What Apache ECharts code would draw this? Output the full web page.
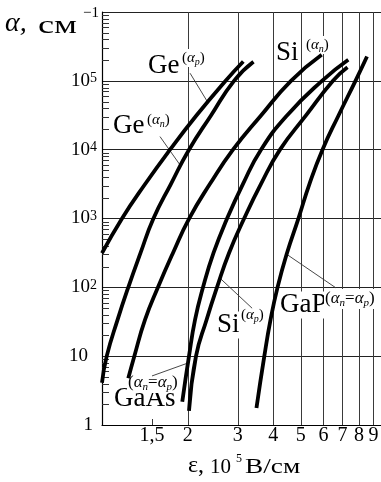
<!DOCTYPE html>
<html>
<head>
<meta charset="utf-8">
<script src="https://cdn.jsdelivr.net/npm/echarts@6/dist/echarts.min.js"></script>
<style>
  html, body { margin: 0; padding: 0; background: #fff; }
  #chart { width: 381px; height: 482px; }
</style>
</head>
<body>
<div id="chart"></div>
<script>
// Impact ionization coefficients α versus electric field ε (log-log).
// Each curve: [field, 10^5 V/cm ; alpha, cm^-1]
const geAlphaP = [[1.0, 313], [1.173, 986], [1.414, 3120], [1.734, 1.0e4], [2.147, 3.14e4], [2.706, 9.8e4], [3.138, 1.91e5]];
const geAlphaN = [[1.0, 4.12], [1.039, 10], [1.134, 33.6], [1.237, 100], [1.366, 316], [1.515, 990], [1.748, 3190], [2.022, 1.0e4], [2.416, 3.14e4], [2.911, 1.0e5], [3.408, 1.89e5]];
const siAlphaN = [[1.237, 4.77], [1.299, 10], [1.416, 33.6], [1.573, 100], [1.776, 316], [2.022, 990], [2.397, 3190], [2.887, 1.0e4], [3.622, 3.14e4], [4.617, 1.0e5], [5.918, 2.39e5]];
const gaAs = [[1.915, 2.18], [2.022, 10], [2.123, 33.6], [2.265, 100], [2.466, 316], [2.75, 990], [3.131, 3190], [3.622, 1.0e4], [4.47, 3.14e4], [5.933, 1.0e5], [7.34, 2.02e5]];
const siAlphaP = [[2.022, 1.61], [2.14, 10], [2.33, 33.6], [2.536, 100], [2.796, 316], [3.156, 990], [3.622, 3190], [4.224, 1.0e4], [5.212, 3.14e4], [6.486, 1.0e5], [7.293, 1.57e5]];
const gaP = [[3.491, 1.77], [3.72, 10], [3.911, 33.6], [4.14, 100], [4.47, 316], [4.898, 990], [5.362, 3190], [5.957, 1.0e4], [6.782, 3.14e4], [7.78, 1.0e5], [8.54, 2.26e5]];

// Leader lines from curve labels to their curves
const leaderGeP = [[2.04, 1.29e5], [2.36, 4.79e4]];
const leaderGeN = [[1.599, 1.55e4], [1.88, 6010]];
const leaderSiP = [[2.60, 135.6], [3.37, 49.7]];
const leaderGaAs = [[1.499, 5.16], [2.006, 7.96]];
const leaderGaP = [[4.49, 296], [6.645, 98]];

// Field-axis ticks
const xTickValues = [1.5, 2, 3, 4, 5, 6, 7, 8, 9];
const xTickLabels = ['1,5', '2', '3', '4', '5', '6', '7', '8', '9'];

// Minor ticks on the alpha axis
const yMinorMultipliers = [2, 3, 4, 5, 6, 7, 8, 9];
const yDecades = [1, 10, 100, 1000, 1e4, 1e5];

const serif = 'Liberation Serif';
const yMinorValues = [];
yDecades.forEach(d => yMinorMultipliers.forEach(m => yMinorValues.push(m * d)));

function curve(name, data) {
  return {
    name, type: 'line', data, symbol: 'none', showSymbol: false, smooth: 0.5,
    z: 5, silent: true, lineStyle: { color: '#000', width: 3.8, cap: 'butt' }
  };
}
function leader(data) {
  return {
    type: 'line', data, symbol: 'none', showSymbol: false, z: 4, silent: true,
    lineStyle: { color: '#333', width: 0.9 }
  };
}

// Curve name with a small "(α…)" superscript
function mainText(x, y, text) {
  return {
    type: 'text', x, y, z: 2,
    style: { text, fontSize: 27, fontFamily: serif, fill: '#000', verticalAlign: 'middle',
      backgroundColor: '#fff', padding: [0, 1] }
  };
}
function supText(x, y, parts, big) {
  const fs = big ? 17 : 15, ss = big ? 11 : 10;
  return {
    type: 'text', x, y, z: 2,
    style: {
      text: parts, fill: '#000', verticalAlign: 'middle', backgroundColor: '#fff', padding: [0, 1],
      rich: {
        p: { fontSize: fs, fontFamily: serif, lineHeight: fs + 3 },
        a: { fontSize: fs, fontFamily: serif, fontStyle: 'italic', lineHeight: fs + 3 },
        s: { fontSize: ss, fontFamily: serif, fontStyle: 'italic', lineHeight: ss, verticalAlign: 'bottom' }
      }
    }
  };
}

const chart = echarts.init(document.getElementById('chart'), null, { renderer: 'canvas' });

chart.setOption({
  animation: false,
  backgroundColor: '#fff',
  textStyle: { fontFamily: serif },
  grid: { left: 102, top: 12, width: 284.5, height: 413, containLabel: false, outerBoundsMode: 'none' },
  xAxis: {
    type: 'log', logBase: 10, min: 1, max: 10,
    axisLine: { show: true, lineStyle: { color: '#000', width: 1.2 } },
    axisTick: { show: false }, axisLabel: { show: false }, splitLine: { show: false }
  },
  yAxis: {
    type: 'log', logBase: 10, min: 1, max: 1e6, splitNumber: 6,
    axisLine: { show: true, lineStyle: { color: '#000', width: 1.2 } },
    axisTick: { show: false },
    splitLine: { show: true, lineStyle: { color: '#222', width: 1 } },
    axisLabel: {
      margin: 5,
      formatter: v => {
        const k = Math.round(Math.log10(v));
        if (k === 0) return '{b|1}{g1| }';
        if (k === 1) return '{b|10}{g2| }';
        if (k >= 6) return '';
        return '{b|10}{s|' + k + '}';
      },
      rich: {
        b: { fontSize: 19, fontFamily: serif, color: '#000', lineHeight: 19 },
        s: { fontSize: 14, fontFamily: serif, color: '#000', lineHeight: 14, verticalAlign: 'top' },
        g1: { width: 4, fontSize: 10 },
        g2: { width: 9, fontSize: 10 }
      }
    }
  },
  graphic: [
    // axis titles
    { type: 'text', x: 5, y: 23.5, style: { text: 'α,', fontSize: 28, fontStyle: 'italic', fontFamily: serif, fill: '#000', verticalAlign: 'middle' } },
    { type: 'text', x: 38, y: 26, scaleX: 1.45, style: { text: 'см', fontSize: 25, fontFamily: serif, fill: '#000', verticalAlign: 'middle' } },
    { type: 'text', x: 83, y: 13, style: { text: '−1', fontSize: 15, fontFamily: serif, fill: '#000', verticalAlign: 'middle' } },
    { type: 'text', x: 188, y: 466, style: { text: 'ε,', fontSize: 24, fontFamily: serif, fill: '#000', verticalAlign: 'middle' } },
    { type: 'text', x: 210, y: 467, style: { text: '10', fontSize: 21, fontFamily: serif, fill: '#000', verticalAlign: 'middle' } },
    { type: 'text', x: 236, y: 459, style: { text: '5', fontSize: 12, fontFamily: serif, fill: '#000', verticalAlign: 'middle' } },
    { type: 'text', x: 245, y: 467, scaleX: 1.3, style: { text: 'В/см', fontSize: 21, fontFamily: serif, fill: '#000', verticalAlign: 'middle' } },
    // curve labels
    mainText(147, 66, 'Ge'), supText(181, 58, '{p|(}{a|α}{s|p}{p|)}'),
    mainText(112, 126, 'Ge'), supText(146, 120, '{p|(}{a|α}{s|n}{p|)}'),
    mainText(275, 53, 'Si'), supText(305, 45, '{p|(}{a|α}{s|n}{p|)}'),
    mainText(216, 325, 'Si'), supText(240, 315, '{p|(}{a|α}{s|p}{p|)}'),
    mainText(113, 399, 'GaAs'), supText(127, 383, '{p|(}{a|α}{s|n}{p|=}{a|α}{s|p}{p|)}', true),
    mainText(279, 305, 'GaP'), supText(324, 299, '{p|(}{a|α}{s|n}{p|=}{a|α}{s|p}{p|)}', true)
  ],
  series: [
    // vertical grid lines, the 1,5 tick and field labels
    {
      type: 'custom', z: 1, silent: true, clip: false,
      data: xTickValues.map(v => [v, 1]),
      renderItem(params, api) {
        const v = api.value(0);
        const b = api.coord([v, 1]);
        const t = api.coord([v, 1e6]);
        const full = v >= 2;
        const x = Math.round(b[0]) + 0.5;
        return {
          type: 'group',
          children: [
            { type: 'line', shape: { x1: x, y1: b[1], x2: x, y2: full ? t[1] : b[1] - 6 },
              style: { stroke: '#3a3a3a', lineWidth: 1 } },
            { type: 'text', x: b[0], y: b[1] + 11,
              style: { text: xTickLabels[params.dataIndex], fontSize: 20, fontFamily: serif,
                fill: '#000', align: 'center', verticalAlign: 'middle' } }
          ]
        };
      }
    },
    // minor ticks inside the alpha axis
    {
      type: 'custom', z: 1, silent: true, clip: false,
      data: yMinorValues.map(v => [1, v]),
      renderItem(params, api) {
        const p = api.coord([1, api.value(1)]);
        const y = Math.round(p[1]) + 0.5;
        return { type: 'line', shape: { x1: p[0], y1: y, x2: p[0] + 7, y2: y },
          style: { stroke: '#333', lineWidth: 1 } };
      }
    },
    leader(leaderGeP), leader(leaderGeN), leader(leaderSiP), leader(leaderGaAs), leader(leaderGaP),
    curve('Ge αp', geAlphaP),
    curve('Ge αn', geAlphaN),
    curve('Si αn', siAlphaN),
    curve('GaAs', gaAs),
    curve('Si αp', siAlphaP),
    curve('GaP', gaP)
  ]
});
</script>
</body>
</html>
